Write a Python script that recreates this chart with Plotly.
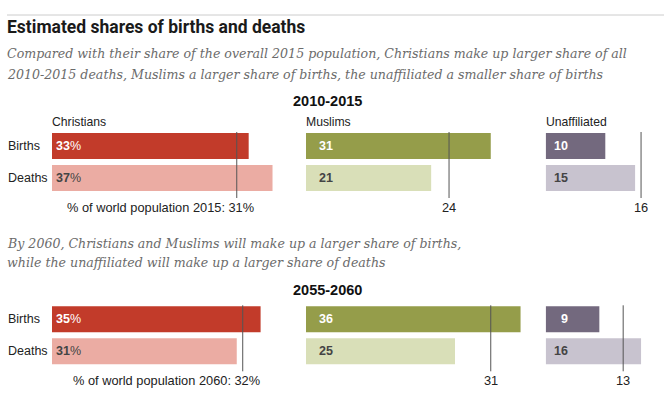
import plotly.graph_objects as go

W, H = 671, 396

# ---- data ----
groups = ["Christians", "Muslims", "Unaffiliated"]
measures = ["Births", "Deaths"]
periods = ["2010-2015", "2055-2060"]
births_2015 = [33, 31, 10]
deaths_2015 = [37, 21, 15]
pop_2015 = [31, 24, 16]
births_2060 = [35, 36, 9]
deaths_2060 = [31, 25, 16]
pop_2060 = [32, 31, 13]
pop_label_years = ["2015", "2060"]
subtitles = [
    ["Compared with their share of the overall 2015 population, Christians make up larger share of all",
     "2010-2015 deaths, Muslims a larger share of births, the unaffiliated a smaller share of births"],
    ["By 2060, Christians and Muslims will make up a larger share of births,",
     "while the unaffiliated will make up a larger share of deaths"],
]
title = "Estimated shares of births and deaths"

birth_colors = ["#C23B2A", "#959D4A", "#73697E"]
death_colors = ["#EBACA3", "#D9DFB8", "#C8C3CF"]

# ---- layout geometry (pixels) ----
PX = 5.96                       # pixels per percentage point
col_x0 = [52, 306, 545.7]
col_x1 = [300, 540, 671]
row_top = [130, 303.3]          # top of category band (px)
row_h = 64
label_shift = [30, 28, 23]

SANS = "Liberation Sans, Arial, sans-serif"
SERIF = "DejaVu Serif, Georgia, serif"

def py(p):
    return 1 - p / H

fig = go.Figure()
layout = dict(
    width=W, height=H, margin=dict(l=0, r=0, t=0, b=0),
    paper_bgcolor="white", plot_bgcolor="white",
    bargap=0.19, showlegend=False,
)
annotations = []
shapes = []

data_rows = [(births_2015, deaths_2015, pop_2015), (births_2060, deaths_2060, pop_2060)]

k = 0
for r, (births, deaths, pops) in enumerate(data_rows):
    for c in range(3):
        k += 1
        xa = "x" if k == 1 else f"x{k}"
        ya = "y" if k == 1 else f"y{k}"
        xkey = "xaxis" if k == 1 else f"xaxis{k}"
        ykey = "yaxis" if k == 1 else f"yaxis{k}"
        layout[xkey] = dict(
            domain=[col_x0[c] / W, col_x1[c] / W],
            range=[0, (col_x1[c] - col_x0[c]) / PX],
            visible=False, fixedrange=True, anchor=ya,
        )
        layout[ykey] = dict(
            domain=[py(row_top[r] + row_h), py(row_top[r])],
            type="category", categoryorder="array", categoryarray=measures,
            range=[1.5, -0.5], visible=False, fixedrange=True, anchor=xa,
        )
        fig.add_trace(go.Bar(
            x=[births[c], deaths[c]], y=measures, orientation="h",
            marker=dict(color=[birth_colors[c], death_colors[c]], line=dict(width=0)),
            xaxis=xa, yaxis=ya, hoverinfo="skip", width=0.81,
        ))
        # value labels
        for j, (v, col) in enumerate(zip([births[c], deaths[c]], ["white", "#444444"])):
            txt = f"<b>{v}</b>%" if c == 0 else f"<b>{v}</b>"
            annotations.append(dict(
                x=0, y=measures[j], xref=xa, yref=ya, text=txt,
                xanchor="right", xshift=label_shift[c] + 1, showarrow=False,
                font=dict(family=SANS, size=12.5, color=col),
            ))
        # reference line
        shapes.append(dict(
            type="line", xref=xa, yref="paper",
            x0=pops[c], x1=pops[c],
            y0=py(row_top[r] + 2), y1=py(row_top[r] + 68),
            line=dict(color="#555555", width=1),
        ))
        if c == 0:
            annotations.append(dict(
                x=pops[c], y=py(row_top[r] + 77), xref=xa, yref="paper",
                text=f"% of world population {pop_label_years[r]}: {pops[c]}%",
                xanchor="right", xshift=19, yanchor="middle", showarrow=False,
                font=dict(family=SANS, size=12.8, color="#222222"),
            ))
        else:
            annotations.append(dict(
                x=pops[c], y=py(row_top[r] + 77), xref=xa, yref="paper",
                text=str(pops[c]), xanchor="center", yanchor="middle", showarrow=False,
                font=dict(family=SANS, size=12.8, color="#222222"),
            ))
        if c == 0:
            for j, m in enumerate(measures):
                annotations.append(dict(
                    x=6 / W, y=m, xref="paper", yref=ya, text=m,
                    xanchor="left", yanchor="middle", showarrow=False,
                    font=dict(family=SANS, size=12.5, color="#222222"),
                ))
        if r == 0:
            annotations.append(dict(
                x=0, y=py(121.7), xref=xa, yref="paper", text=groups[c],
                xanchor="left", yanchor="middle", showarrow=False, xshift=-2,
                font=dict(family=SANS, size=12.2, color="#222222"),
            ))

# period headers
for r, p in enumerate(periods):
    annotations.append(dict(
        x=327 / W, y=py([101, 290][r]), xref="paper", yref="paper",
        text=f"<b>{p}</b>", xanchor="center", yanchor="middle", showarrow=False,
        font=dict(family=SANS, size=14.5, color="#111111"),
    ))

# subtitles
sub_y = [[54, 74], [243, 262]]
for r in range(2):
    for i, line in enumerate(subtitles[r]):
        annotations.append(dict(
            x=5 / W, y=py(sub_y[r][i]), xref="paper", yref="paper",
            text=line, xanchor="left", yanchor="middle", showarrow=False,
            font=dict(family=SERIF, size=12.6, color="#6b6b6b", style="italic"),
        ))

# title
annotations.append(dict(
    x=5 / W, y=py(27), xref="paper", yref="paper",
    text=f"<b>{title}</b>", xanchor="left", yanchor="middle", showarrow=False,
    font=dict(family="Roboto, sans-serif", size=17.5, color="#1a1a1a"),
))
shapes.append(dict(type="line", xref="paper", yref="paper",
                   x0=7 / W, x1=664 / W, y0=py(15), y1=py(15),
                   line=dict(color="#cccccc", width=1)))

layout["annotations"] = annotations
layout["shapes"] = shapes
fig.update_layout(**layout)
fig.write_html("out.html", config={"displayModeBar": False},
               post_script="document.body.style.margin='0px';")
